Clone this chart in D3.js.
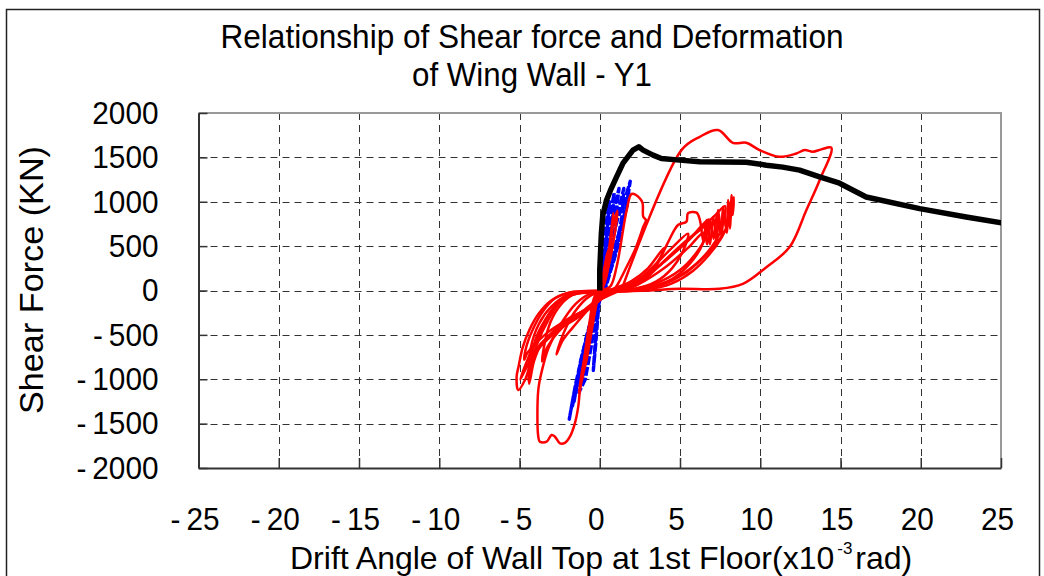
<!DOCTYPE html>
<html>
<head>
<meta charset="utf-8">
<script src="https://cdn.jsdelivr.net/npm/d3@7"></script>
<style>
  html, body { margin: 0; padding: 0; background: #fff; }
  svg text { font-family: "Liberation Sans", Arial, sans-serif; fill: #000; }
</style>
</head>
<body>
<div id="chart"></div>
<script>
// Shear force (kN) vs drift angle (x10^-3 rad), wing wall Y1

const xTicks = [-25, -20, -15, -10, -5, 0, 5, 10, 15, 20, 25];
const yTicks = [-2000, -1500, -1000, -500, 0, 500, 1000, 1500, 2000];

// analysis skeleton curve (black)
const skeleton = [
  [0, 0], [0, 226], [0.1, 644], [0.19, 847], [0.42, 1017], [0.67, 1130], [1.04, 1277],
  [1.45, 1435], [2.07, 1582], [2.43, 1619], [2.7, 1582], [3.32, 1525], [3.84, 1488],
  [4.98, 1469], [6.23, 1450], [9.13, 1446], [10.38, 1412], [11.4, 1390], [12.45, 1356],
  [13.7, 1280], [14.94, 1209], [16.6, 1054], [19.93, 923], [22.83, 828], [25.1, 760]
];

// blue cycles (small amplitude)
const blueCycles = [
  [[0, 0], [0.15, 300], [0.35, 700], [0.6, 1000], [0.45, 650], [0.2, 250], [0, 0], [-0.1, -250], [-0.25, -600], [-0.4, -900], [-0.25, -500], [-0.05, -100], [0, 0]],
  [[0, 0], [0.3, 250], [0.6, 650], [1.0, 1000], [1.2, 1150], [0.9, 700], [0.5, 300], [0.1, 0], [-0.3, -250], [-0.7, -700], [-1.1, -1000], [-0.8, -650], [-0.4, -250], [0, 0]],
  [[0, 0], [0.4, 300], [0.8, 700], [1.3, 1000], [1.5, 1150], [1.4, 850], [1.0, 450], [0.3, 20], [-0.3, -250], [-0.9, -750], [-1.4, -1050], [-1.6, -1250], [-1.2, -800], [-0.5, -300], [0, 0]],
  [[0, 0], [0.5, 350], [1.1, 800], [1.6, 1050], [1.9, 1230], [1.7, 1000], [1.2, 550], [0.4, 50], [-0.4, -250], [-1.0, -700], [-1.6, -1150], [-1.9, -1450], [-1.5, -1050], [-0.8, -500], [0, 0]],
  [[0, 0], [0.3, 400], [0.6, 800], [0.9, 1100], [0.75, 700], [0.3, 200], [-0.1, -100], [-0.5, -600], [-0.9, -1000], [-1.3, -1150], [-1.0, -800], [-0.5, -300], [0, 0]],
  [[0, 0], [0.6, 300], [1.2, 650], [1.7, 950], [1.8, 1100], [1.5, 800], [0.9, 350], [0.2, 0], [-0.5, -350], [-1.2, -850], [-1.7, -1300], [-1.3, -950], [-0.6, -400], [0, 0]]
];

// experiment cycles (red)
const redCycles = [
  [[0, 0], [0.25, 220], [0.5, 450], [0.35, 200], [0.1, 20], [-0.1, -30], [-0.3, -220], [-0.5, -400], [-0.35, -180], [-0.1, -10], [0, 0]],
  [[0, 0], [0.3, 150], [0.6, 500], [0.85, 870], [0.7, 550], [0.4, 150], [0.1, 0], [-0.3, -60], [-0.7, -450], [-1.1, -1000], [-0.8, -550], [-0.4, -150], [0, 0]],
  [[0, 0], [0.5, 300], [0.8, 700], [1.1, 900], [0.9, 600], [0.3, 100], [-0.2, -100], [-0.7, -600], [-1.3, -1150], [-1.0, -800], [-0.4, -250], [0, 0]],
  [[0, 0], [0.64, 43], [1.05, 268], [1.68, 907], [1.99, 1087], [2.5, 1039], [2.67, 983], [2.71, 832], [2.88, 794], [2.71, 719],
   [2.5, 606], [2.19, 456], [1.68, 268], [1.26, 118], [0.95, 28], [0.3, -10], [-0.6, -60], [-1.6, -250], [-2.3, -500], [-2.7, -720],
   [-2.3, -560], [-1.6, -400], [-0.8, -230], [0, -60], [0.5, 0]],
  [[0.5, 0], [1, 30], [2, 110], [3, 250], [4.0, 480], [3.6, 300], [2.8, 120], [1.8, 20], [0.5, -10], [-0.8, -20], [-1.8, -60],
   [-2.6, -200], [-3.2, -420], [-3.6, -800], [-3.3, -650], [-2.6, -470], [-1.8, -330], [-0.9, -210], [0, -80], [0.6, 0]],
  [[0.6, 0], [1.5, 40], [2.5, 140], [3.5, 300], [4.5, 480], [5.5, 640], [5.2, 450], [4.5, 250], [3.5, 100], [2.2, 20], [0.5, 0],
   [-1, -10], [-2, -50], [-3, -180], [-3.8, -380], [-4.3, -650], [-4.4, -1050], [-4.1, -800], [-3.7, -620], [-3.1, -500],
   [-2.3, -370], [-1.5, -280], [-0.7, -200], [0.2, -80], [1, 0]],
  [[1, 0], [2, 50], [3, 160], [4, 330], [5, 500], [6, 650], [6.6, 720], [6.4, 520], [5.6, 300], [4.5, 130], [3, 30], [1.2, 0],
   [-0.5, -5], [-1.8, -20], [-2.8, -90], [-3.6, -250], [-4.2, -450], [-4.6, -650], [-4.7, -780], [-4.5, -700], [-4.0, -600],
   [-3.3, -480], [-2.5, -380], [-1.6, -290], [-0.6, -190], [0.3, -60], [1.2, 0]],
  [[0, -10], [1.5, 40], [3, 180], [4.5, 400], [5.5, 560], [6.3, 720], [6.8, 800], [6.6, 600], [6.0, 420], [5.0, 230], [3.5, 80],
   [1.5, 0], [-0.5, -10], [-1.5, -30], [-2.4, -120], [-3.2, -330], [-3.9, -600], [-4.3, -850], [-4.0, -700], [-3.4, -560],
   [-2.6, -430], [-1.6, -320], [-0.6, -200], [0.4, -40]],
  [[0.4, -40], [2, 60], [3.5, 250], [5, 480], [6.2, 680], [7.2, 850], [7.8, 950], [7.6, 700], [7.0, 500], [6.0, 300], [4.5, 120],
   [2.5, 20], [0.5, -5], [-1.2, -20], [-2.2, -80], [-3.1, -250], [-3.8, -500], [-4.5, -780], [-4.95, -1000], [-4.6, -880],
   [-4.0, -700], [-3.3, -560], [-2.4, -420], [-1.4, -310], [-0.4, -170], [0.6, -20]],
  [[1.2, 0], [2.2, 60], [3.0, 180], [3.8, 380], [4.3, 560], [4.88, 738], [5.4, 776], [5.5, 870], [6.03, 877], [6.24, 794],
   [6.45, 560], [6.66, 794], [6.87, 520], [7.07, 832], [7.28, 560], [7.38, 907], [7.6, 600], [7.69, 944], [7.91, 650],
   [8.01, 1020], [8.11, 700], [8.22, 1076], [8.28, 850], [8.35, 1050], [8.1, 800], [7.6, 600], [6.8, 400], [5.8, 220],
   [4.5, 80], [3, 10], [1, -10], [-0.8, -10], [-2, -30], [-3.0, -110], [-3.8, -260], [-4.4, -450], [-4.8, -640],
   [-5.05, -850], [-5.18, -971], [-5.08, -1121], [-4.66, -1008], [-4.24, -783], [-3.83, -633], [-3.21, -520],
   [-2.37, -370], [-1.75, -295], [-0.92, -220], [0, -107], [1, -20]],
  [[1, -20], [2.5, 80], [4, 250], [5.5, 480], [6.5, 650], [6.7, 520], [6.9, 780], [7.1, 580], [7.3, 860], [7.5, 640],
   [7.7, 900], [7.9, 700], [8.1, 980], [8.3, 1000], [8.0, 750], [7.4, 560], [6.5, 380],
   [5.2, 180], [3.8, 60], [2, 0], [0, -20], [-1.5, -40], [-2.5, -120], [-3.4, -330], [-4.0, -550], [-4.45, -1008],
   [-4.2, -800], [-3.6, -600], [-2.8, -450], [-1.8, -320], [-0.8, -200], [0.2, -60], [1.4, 30]],
  [[1.4, 30], [5.09, 1582], [6.23, 1732], [7.37, 1808], [8.3, 1664], [9.13, 1664], [9.96, 1582], [11.2, 1506],
   [12.25, 1544], [12.77, 1582], [13.28, 1563], [13.8, 1590], [14.43, 1608], [13.7, 1243], [12.87, 904], [11.83, 489],
   [10.38, 263], [8.92, 75], [7.47, 19], [4.98, 19], [3, 0], [1, -10], [-0.5, -30], [-1.5, -150], [-2.5, -400],
   [-3.2, -650], [-3.6, -900], [-3.83, -1121], [-3.83, -1647], [-3.73, -1704], [-3.31, -1704], [-3.0, -1628],
   [-2.79, -1647], [-2.48, -1722], [-2.17, -1716], [-1.86, -1647], [-1.55, -1497], [-1.34, -1309], [-1.23, -1121],
   [-1.03, -933], [-0.82, -783], [-0.5, -450], [-0.2, -150], [0, 0]]
];

const W = 1044, H = 576;
const plot = { left: 198.5, right: 1001, top: 113, bottom: 468 };

const svg = d3.select('#chart').append('svg').attr('width', W).attr('height', H);

// squeeze text a little so it reads narrow and tall like the original
function condense(sel, k) {
  sel.each(function () {
    const len = this.getComputedTextLength();
    d3.select(this).attr('textLength', len * k).attr('lengthAdjust', 'spacingAndGlyphs');
  });
}

// outer frame
svg.append('rect')
  .attr('x', 6.5).attr('y', 9.5).attr('width', 1033).attr('height', 600)
  .attr('fill', 'none').attr('stroke', '#222').attr('stroke-width', 1.5);

const x = d3.scaleLinear().domain([-25, 25]).range([plot.left, plot.right]);
const y = d3.scaleLinear().domain([-2000, 2000]).range([plot.bottom, plot.top]);

// dashed grid
const grid = svg.append('g').attr('stroke', '#333').attr('stroke-width', 1).attr('stroke-dasharray', '7,5');
grid.selectAll('line.gx').data(xTicks.slice(1, -1)).join('line')
  .attr('x1', d => Math.round(x(d)) + 0.5).attr('x2', d => Math.round(x(d)) + 0.5)
  .attr('y1', plot.top).attr('y2', plot.bottom);
grid.selectAll('line.gy').data(yTicks.slice(1, -1)).join('line')
  .attr('x1', plot.left).attr('x2', plot.right)
  .attr('y1', d => Math.round(y(d)) + 0.5).attr('y2', d => Math.round(y(d)) + 0.5);

// top/right frame of the plot (gray)
svg.append('path')
  .attr('d', `M${plot.left},${plot.top}H${plot.right}V${plot.bottom}`)
  .attr('fill', 'none').attr('stroke', '#999').attr('stroke-width', 2);

// data
svg.append('clipPath').attr('id', 'clip').append('rect')
  .attr('x', plot.left).attr('y', plot.top)
  .attr('width', plot.right - plot.left).attr('height', plot.bottom - plot.top);
const data = svg.append('g').attr('clip-path', 'url(#clip)');

const smooth = d3.line().x(d => x(d[0])).y(d => y(d[1])).curve(d3.curveCatmullRom.alpha(0.5));
const straight = d3.line().x(d => x(d[0])).y(d => y(d[1]));

data.selectAll('path.blue').data(blueCycles).join('path')
  .attr('class', 'blue')
  .attr('d', straight).attr('fill', 'none')
  .attr('stroke', '#0000ff').attr('stroke-width', 3.4)
  .attr('stroke-dasharray', '9,2').attr('stroke-linejoin', 'round');

data.selectAll('path.red').data(redCycles).join('path')
  .attr('class', 'red')
  .attr('d', smooth).attr('fill', 'none')
  .attr('stroke', '#ff0000').attr('stroke-width', 2.5)
  .attr('stroke-linejoin', 'round');

data.append('path').datum(skeleton)
  .attr('d', straight).attr('fill', 'none')
  .attr('stroke', '#000').attr('stroke-width', 5.5)
  .attr('stroke-linejoin', 'round');

// axes with inward ticks
const fmt = d => d < 0 ? '-\u2009' + Math.abs(d) : String(d);

const yAxis = svg.append('g')
  .attr('transform', `translate(${plot.left},0)`)
  .call(d3.axisLeft(y).tickValues(yTicks).tickSizeInner(-9).tickSizeOuter(0).tickPadding(40).tickFormat(fmt));
const xAxis = svg.append('g')
  .attr('transform', `translate(0,${plot.bottom})`)
  .call(d3.axisBottom(x).tickValues(xTicks).tickSizeInner(-10).tickSizeOuter(0).tickPadding(39).tickFormat(fmt));

[xAxis, yAxis].forEach(a => {
  a.select('.domain').attr('stroke', '#333').attr('stroke-width', 2);
  a.selectAll('.tick line').attr('stroke', '#333').attr('stroke-width', 1.5);
  a.selectAll('.tick text').attr('font-size', 32).attr('font-family', '"Liberation Sans", Arial, sans-serif').attr('fill', '#000');
  condense(a.selectAll('.tick text'), 0.93);
});
xAxis.selectAll('.tick text').attr('dx', -4);

// titles
const title = svg.append('text').attr('text-anchor', 'middle').attr('font-size', 33);
title.append('tspan').attr('x', 532).attr('y', 48)
  .attr('textLength', 623).attr('lengthAdjust', 'spacingAndGlyphs')
  .text('Relationship of Shear force and Deformation');
title.append('tspan').attr('x', 532).attr('y', 86)
  .attr('textLength', 240).attr('lengthAdjust', 'spacingAndGlyphs')
  .text('of Wing Wall - Y1');

svg.append('text')
  .attr('transform', 'translate(43,280) rotate(-90)')
  .attr('text-anchor', 'middle').attr('font-size', 33)
  .attr('textLength', 268).attr('lengthAdjust', 'spacingAndGlyphs')
  .text('Shear Force (KN)');

// x title as one text with a raised "-3"
const xTitle = svg.append('text').attr('font-size', 32).attr('x', 290).attr('y', 569);
xTitle.append('tspan').text('Drift Angle of Wall Top at 1st Floor(x10');
xTitle.append('tspan').attr('font-size', 17).attr('dx', 3).attr('dy', -15).text('-3');
xTitle.append('tspan').attr('dx', 3).attr('dy', 15).text('rad)');
</script>
</body>
</html>
